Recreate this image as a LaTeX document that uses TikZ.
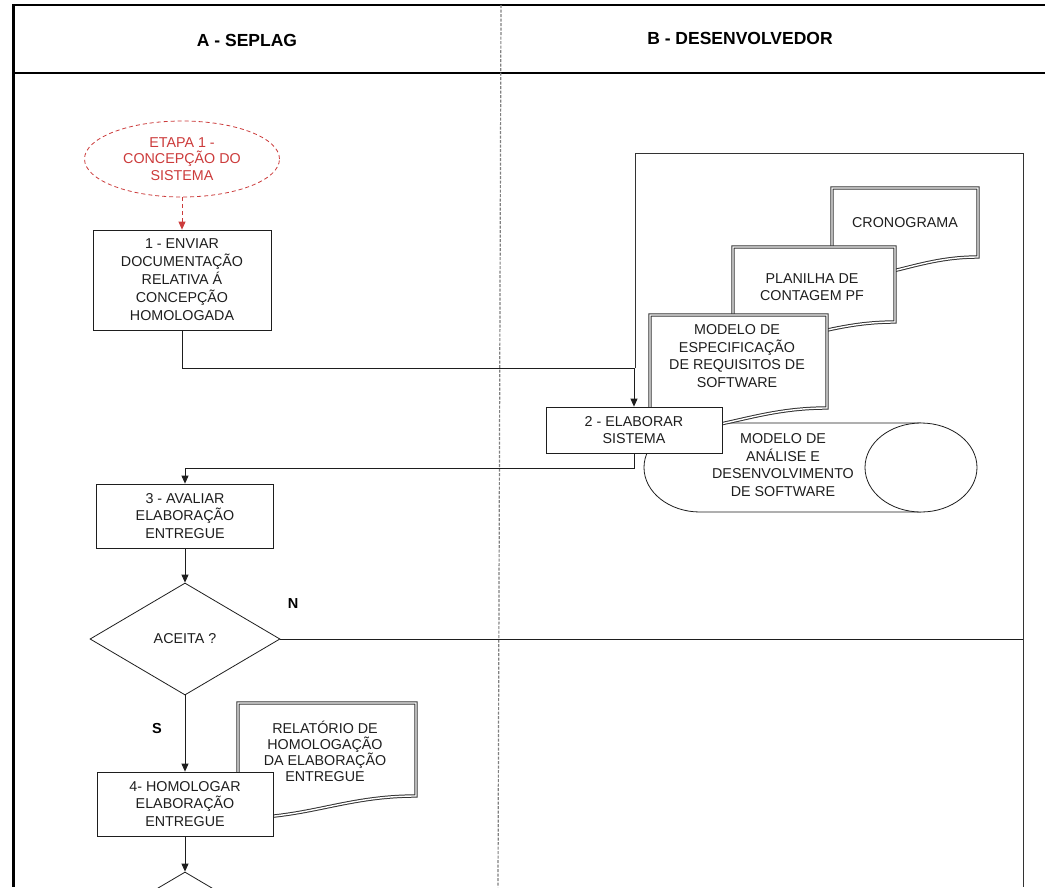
\documentclass[tikz,border=0pt]{standalone}
\usepackage{fontspec}
\setmainfont{Liberation Sans}
\usetikzlibrary{shapes.geometric,arrows.meta,calc}

\definecolor{ink}{HTML}{1E1E1E}
\definecolor{etapa}{HTML}{CC3B3B}
\definecolor{docgray}{HTML}{333333}

\begin{document}
\begin{tikzpicture}[x=1pt,y=-1pt,
  every node/.style={font=\fontsize{14.3}{17.6}\selectfont, text=ink},
  proc/.style={draw=ink, line width=0.8pt, fill=white, align=center, inner sep=2pt},
  decision/.style={diamond, draw=ink, line width=0.8pt, fill=white, minimum width=190pt, minimum height=112pt, inner sep=0pt},
  arr/.style={draw=ink, line width=0.8pt, -{Triangle[length=8pt,width=7pt]}},
  flow/.style={draw=ink, line width=0.8pt},
  docline/.style={draw=docgray, line width=1pt, double=white, double distance=1.4pt, fill=white},
  doctext/.style={align=center},
  heading/.style={font=\fontsize{17.5}{20}\selectfont\bfseries, text=black},
  flag/.style={font=\fontsize{14.5}{17}\selectfont\bfseries, text=black},
]
\useasboundingbox (0,0) rectangle (1045,887);
\fill[white] (0,0) rectangle (1045,887);

% swimlane frame and headings
\draw[line width=2.5pt] (13,5) -- (1045,5);
\draw[line width=2pt] (13,73) -- (1045,73);
\draw[line width=3pt] (13,4) -- (13,887);
\draw[gray, line width=1.2pt, dash pattern=on 3pt off 1.5pt] (501,5) -- (498,887);
\node[heading] (laneA) at (247,40) {A - SEPLAG};
\node[heading] (laneB) at (740,38) {B - DESENVOLVEDOR};

% artefact frame of step 2
\draw[flow, draw=docgray] (635,368) -- (635,153) -- (1023,153) -- (1023,887);

% stored model (direct access storage)
\draw[flow, fill=white] (921,423) -- (700,423)
  arc[start angle=90, end angle=270, x radius=56pt, y radius=44.5pt] -- (921,512);
\node[ellipse, draw=ink, line width=0.8pt, fill=white, minimum width=112pt, minimum height=89pt, inner sep=0pt] (disk) at (921,467.5) {};
\node[doctext] (modan) at (783,465) {MODELO DE\\ANÁLISE E\\DESENVOLVIMENTO\\DE SOFTWARE};

% documents
\draw[docline] (832,188) -- (978,188) -- (978,257) .. controls (920,257) and (890,279) .. (832,279) -- cycle;
\node[doctext] (cron) at (905,223) {CRONOGRAMA};
\draw[docline] (733,247) -- (895,247) -- (895,322) .. controls (830,322) and (798,344) .. (733,344) -- cycle;
\node[doctext] (plan) at (812,287) {PLANILHA DE\\CONTAGEM PF};
\draw[docline] (650,315) -- (827,315) -- (827,408) .. controls (756,408) and (721,432) .. (650,432) -- cycle;
\node[doctext] (mers) at (737,356) {MODELO DE\\ESPECIFICAÇÃO\\DE REQUISITOS DE\\SOFTWARE};

\node[proc, minimum width=176pt, minimum height=46pt] (b2) at (634,430) {2 - ELABORAR\\SISTEMA};

% lane A
\node[ellipse, draw=etapa, dash pattern=on 4pt off 3pt, line width=0.8pt, minimum width=195pt, minimum height=76pt, text=etapa, align=center, inner sep=0pt, font=\fontsize{14.3}{16.6}\selectfont] (etapa) at (182,159) {ETAPA 1 -\\CONCEPÇÃO DO\\SISTEMA};
\node[proc, minimum width=178pt, minimum height=100pt, font=\fontsize{14.3}{18}\selectfont] (b1) at (182,280) {1 - ENVIAR\\DOCUMENTAÇÃO\\RELATIVA Á\\CONCEPÇÃO\\HOMOLOGADA};
\node[proc, minimum width=177pt, minimum height=64pt] (b3) at (185,516) {3 - AVALIAR\\ELABORAÇÃO\\ENTREGUE};
\node[decision] (d1) at (185,639) {ACEITA ?};

\draw[docline] (238,703) -- (416,703) -- (416,796) .. controls (345,796) and (309,818) .. (238,818) -- cycle;
\node[doctext, font=\fontsize{14.3}{16}\selectfont] (relat) at (325,751) {RELATÓRIO DE\\HOMOLOGAÇÃO\\DA ELABORAÇÃO\\ENTREGUE};

\node[proc, minimum width=176pt, minimum height=64pt] (b4) at (185,804) {4- HOMOLOGAR\\ELABORAÇÃO\\ENTREGUE};
\node[decision] (d2) at (185,928) {};

\node[flag] (lblN) at (293,604) {N};
\node[flag] (lblS) at (157,728) {S};
\coordinate (rb) at (1023,639);

% connectors
\draw[draw=etapa, line width=0.8pt, dash pattern=on 4pt off 3pt, -{Triangle[length=8pt,width=7pt]}] (etapa.south) -- (b1.north);
\draw[arr] (b1.south) -- ++(0,38) -| (b2.north);
\draw[arr] (b2.south) -- ++(0,15) -| (b3.north);
\draw[arr] (b3.south) -- (d1.north);
\draw[flow] (d1.east) -- (rb);
\draw[arr] (d1.south) -- (b4.north);
\draw[arr] (b4.south) -- (d2.north);
\end{tikzpicture}
\end{document}
